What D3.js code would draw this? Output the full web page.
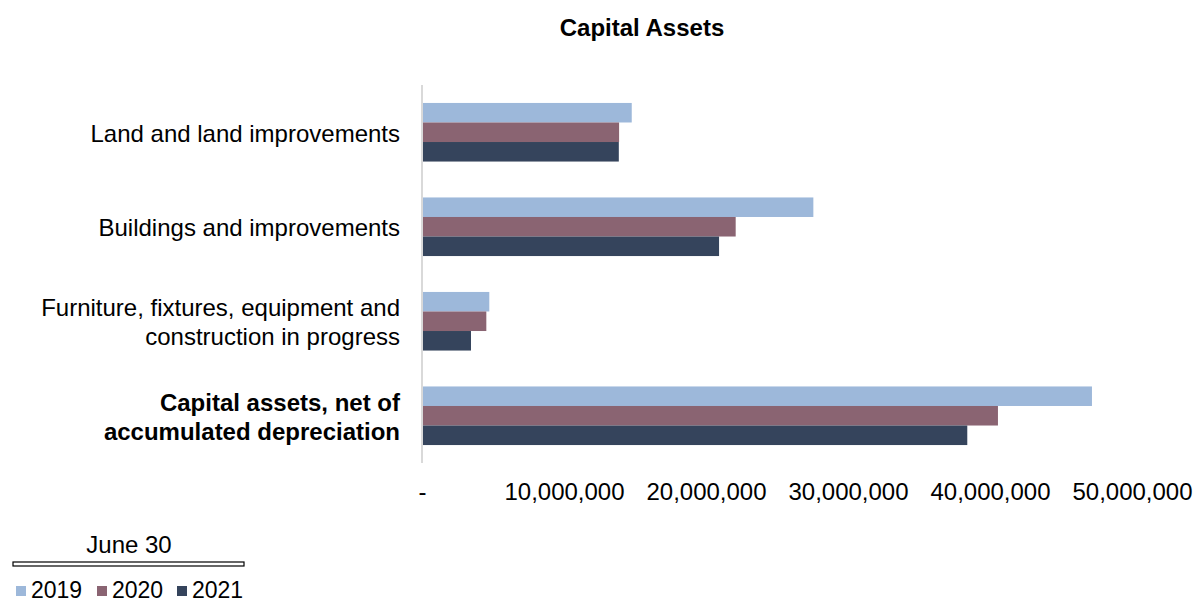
<!DOCTYPE html>
<html>
<head>
<meta charset="utf-8">
<script src="https://cdn.jsdelivr.net/npm/d3@7"></script>
<style>
  body { margin: 0; background: #fff; }
  svg text { font-family: "Liberation Sans", Arial, sans-serif; fill: #000; }
</style>
</head>
<body>
<div id="chart"></div>
<script>
var categories = ["Land and land improvements", "Buildings and improvements", "Furniture, fixtures, equipment and construction in progress", "Capital assets, net of accumulated depreciation"]
var categoryLines = [["Land and land improvements"], ["Buildings and improvements"], ["Furniture, fixtures, equipment and", "construction in progress"], ["Capital assets, net of", "accumulated depreciation"]]
var years = ["2019", "2020", "2021"]
var values2019 = [14770000, 27560000, 4740000, 47180000]
var values2020 = [13880000, 22090000, 4530000, 40560000]
var values2021 = [13860000, 20920000, 3450000, 38400000]
var tickValues = [0, 10000000, 20000000, 30000000, 40000000, 50000000]
var colors = ["#9db8da", "#8a6472", "#35445c"]

var width = 1194, height = 602
var margin = { left: 422, right: 62, top: 85, bottom: 139 }
var innerW = width - margin.left - margin.right
var innerH = height - margin.top - margin.bottom

var data = categories.map(function (c, i) {
    return {
        category: c,
        values: [
            { series: "2019", value: values2019[i] },
            { series: "2020", value: values2020[i] },
            { series: "2021", value: values2021[i] }
        ]
    }
})

var svg = d3.select("#chart").append("svg")
    .attr("width", width)
    .attr("height", height)

// Title
svg.append("text")
    .attr("x", 642)
    .attr("y", 36)
    .attr("text-anchor", "middle")
    .attr("font-size", "24px")
    .attr("font-weight", "bold")
    .text("Capital Assets")

var g = svg.append("g")
    .attr("transform", "translate(" + margin.left + "," + margin.top + ")")

var x = d3.scaleLinear()
    .domain([0, 50000000])
    .range([0, innerW])

var y0 = d3.scaleBand()
    .domain(categories)
    .range([0, innerH])
    .paddingInner(0.38)
    .paddingOuter(0.19)

var y1 = d3.scaleBand()
    .domain(years)
    .range([0, y0.bandwidth()])

// Bars
var slice = g.selectAll(".slice")
    .data(data)
    .enter().append("g")
    .attr("class", "slice")
    .attr("transform", function (d) { return "translate(0," + y0(d.category) + ")" })

slice.selectAll("rect")
    .data(function (d) { return d.values })
    .enter().append("rect")
    .attr("x", 0)
    .attr("y", function (d) { return y1(d.series) })
    .attr("width", function (d) { return x(d.value) })
    .attr("height", y1.bandwidth())
    .style("fill", function (d, i) { return colors[i] })

// Vertical axis line
g.append("line")
    .attr("x1", 0).attr("x2", 0)
    .attr("y1", 0).attr("y2", innerH)
    .attr("stroke", "#d9d9d9")
    .attr("stroke-width", 2)

// X axis labels
var xAxisCall = d3.axisBottom(x)
    .tickValues(tickValues)
    .tickSize(0)
    .tickFormat(function (d) { return d === 0 ? "-" : d3.format(",")(d) })
var xAxis = g.append("g")
    .attr("transform", "translate(0," + innerH + ")")
    .call(xAxisCall)
xAxis.select(".domain").remove()
xAxis.selectAll("text")
    .attr("y", 20)
    .attr("font-size", "24px")
    .attr("font-family", "Liberation Sans, Arial, sans-serif")
    .attr("fill", "#000")

// Category labels
var catLabels = g.selectAll(".cat")
    .data(categories)
    .enter().append("text")
    .attr("class", "cat")
    .attr("text-anchor", "end")
    .attr("font-size", "24px")
    .attr("font-weight", function (d, i) { return i === categories.length - 1 ? "bold" : "normal" })
    .attr("transform", function (d) { return "translate(-22," + (y0(d) + y0.bandwidth() / 2) + ")" })

catLabels.each(function (d, i) {
    var lines = categoryLines[i]
    var t = d3.select(this)
    lines.forEach(function (line, j) {
        t.append("tspan")
            .attr("x", 0)
            .attr("y", (j - (lines.length - 1) / 2) * 29 + 1)
            .attr("dy", "0.35em")
            .text(line)
    })
})

// Legend
var legend = svg.append("g")
svg.append("text")
    .attr("x", 129)
    .attr("y", 553)
    .attr("text-anchor", "middle")
    .attr("font-size", "24px")
    .text("June 30")
legend.append("rect")
    .attr("x", 13).attr("y", 562)
    .attr("width", 231).attr("height", 4)
    .attr("fill", "none")
    .attr("stroke", "#000")
    .attr("stroke-width", 1.2)

var legendX = [16, 97, 177]
var item = legend.selectAll(".item")
    .data(years)
    .enter().append("g")
    .attr("class", "item")
    .attr("transform", function (d, i) { return "translate(" + legendX[i] + ",0)" })
item.append("rect")
    .attr("x", 0).attr("y", 586)
    .attr("width", 10).attr("height", 10)
    .style("fill", function (d, i) { return colors[i] })
item.append("text")
    .attr("x", 15)
    .attr("y", 598)
    .attr("font-size", "23px")
    .text(function (d) { return d })
</script>
</body>
</html>
